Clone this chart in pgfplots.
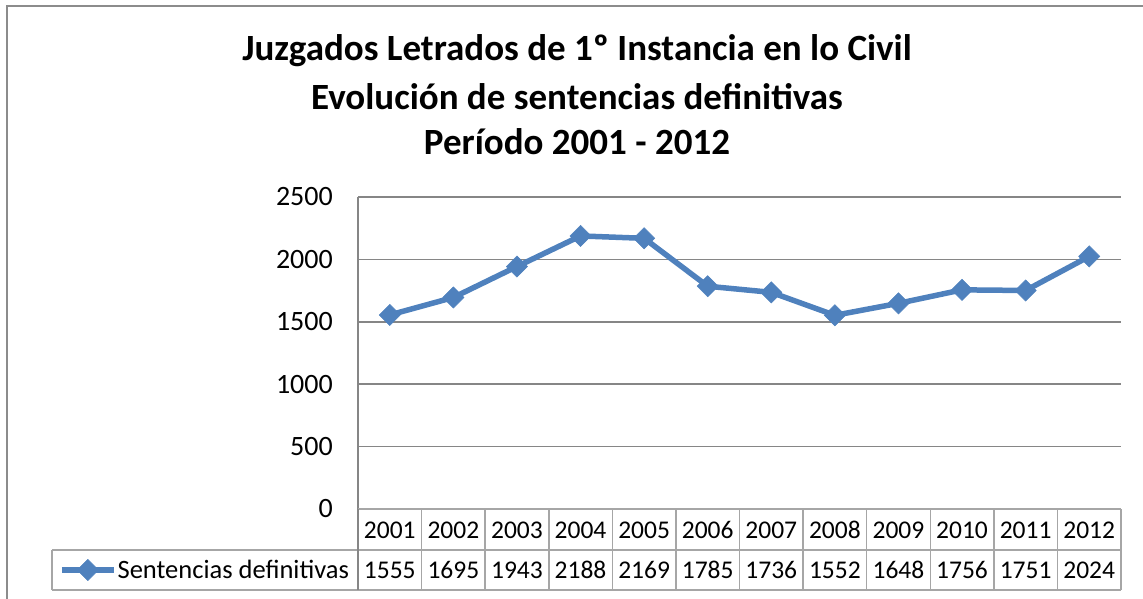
\documentclass[border=0pt]{standalone}
\usepackage{fontspec}
\setmainfont{Carlito}
\usepackage{pgfplots}
\pgfplotsset{compat=1.18}
\definecolor{serie}{HTML}{4F81BD}
\definecolor{rejilla}{HTML}{868686}
\definecolor{tabla}{HTML}{A6A6A6}
\definecolor{marco}{HTML}{8C8C8C}

\begin{document}
\begin{tikzpicture}[x=1pt,y=1pt]
\useasboundingbox (0,0) rectangle (1143,598);
\draw[marco, line width=2.5pt] (7,-5) -- (7,592) -- (1150,592);

% titulo
\begin{scope}[every node/.style={font=\fontsize{37}{44}\selectfont\bfseries}]
\node at (577,547) {Juzgados Letrados de 1º Instancia en lo Civil};
\node at (577,501) {Evolución de sentencias definitivas};
\node at (577,456) {Período 2001 - 2012};
\end{scope}

\begin{axis}[
    at={(358pt,89pt)}, anchor=south west,
    scale only axis,
    width=763pt, height=312pt,
    xmin=0.5, xmax=12.5,
    ymin=0, ymax=2500,
    axis lines*=left,
    axis line style={rejilla, line width=1.5pt},
    xtick=\empty,
    ytick={0,500,...,2500},
    major tick length=0pt,
    ymajorgrids,
    grid style={rejilla, line width=1.5pt},
    /pgf/number format/1000 sep={},
    /pgf/number format/assume math mode=true,
    yticklabel style={font=\fontsize{28}{32}\selectfont, inner sep=0pt, xshift=-25pt},
    clip=false,
    legend style={at={(-0.392,-0.1955)}, anchor=west, draw=none, fill=none,
        inner sep=0pt, font=\fontsize{26.5}{30}\selectfont,
        nodes={inner sep=1pt}},
    legend cell align=left,
    legend image code/.code={\draw[mark repeat=2,mark phase=2] plot coordinates {(0pt,0pt) (26pt,0pt) (52pt,0pt)};},
]
\addplot[serie, line width=5.5pt, mark=square*, mark size=7.5pt,
    mark options={rotate=45, solid, line width=0.5pt}] coordinates {
    (1,1555) (2,1695) (3,1943) (4,2188) (5,2169) (6,1785)
    (7,1736) (8,1552) (9,1648) (10,1756) (11,1751) (12,2024)
};
\addlegendentry{Sentencias definitivas}
\end{axis}

% tabla de datos
\begin{scope}[tabla, line width=1.5pt]
\draw (358,89) -- (1121,89);
\draw (52,48) -- (1121,48);
\draw (52,8) -- (1121,8);
\draw (52,48) -- (52,8);
\draw[rejilla] (358,89) -- (358,8);
\foreach \k in {1,...,12} {\draw ({358+\k*63.583},89) -- ({358+\k*63.583},8);}
\end{scope}
\begin{scope}[every node/.style={font=\fontsize{25.5}{30}\selectfont}]
\foreach \a [count=\k] in {2001,2002,2003,2004,2005,2006,2007,2008,2009,2010,2011,2012}
  {\node at ({358+(\k-0.5)*63.583},68) {\a};}
\foreach \v [count=\k] in {1555,1695,1943,2188,2169,1785,1736,1552,1648,1756,1751,2024}
  {\node at ({358+(\k-0.5)*63.583},28) {\v};}
\end{scope}
\end{tikzpicture}
\end{document}
